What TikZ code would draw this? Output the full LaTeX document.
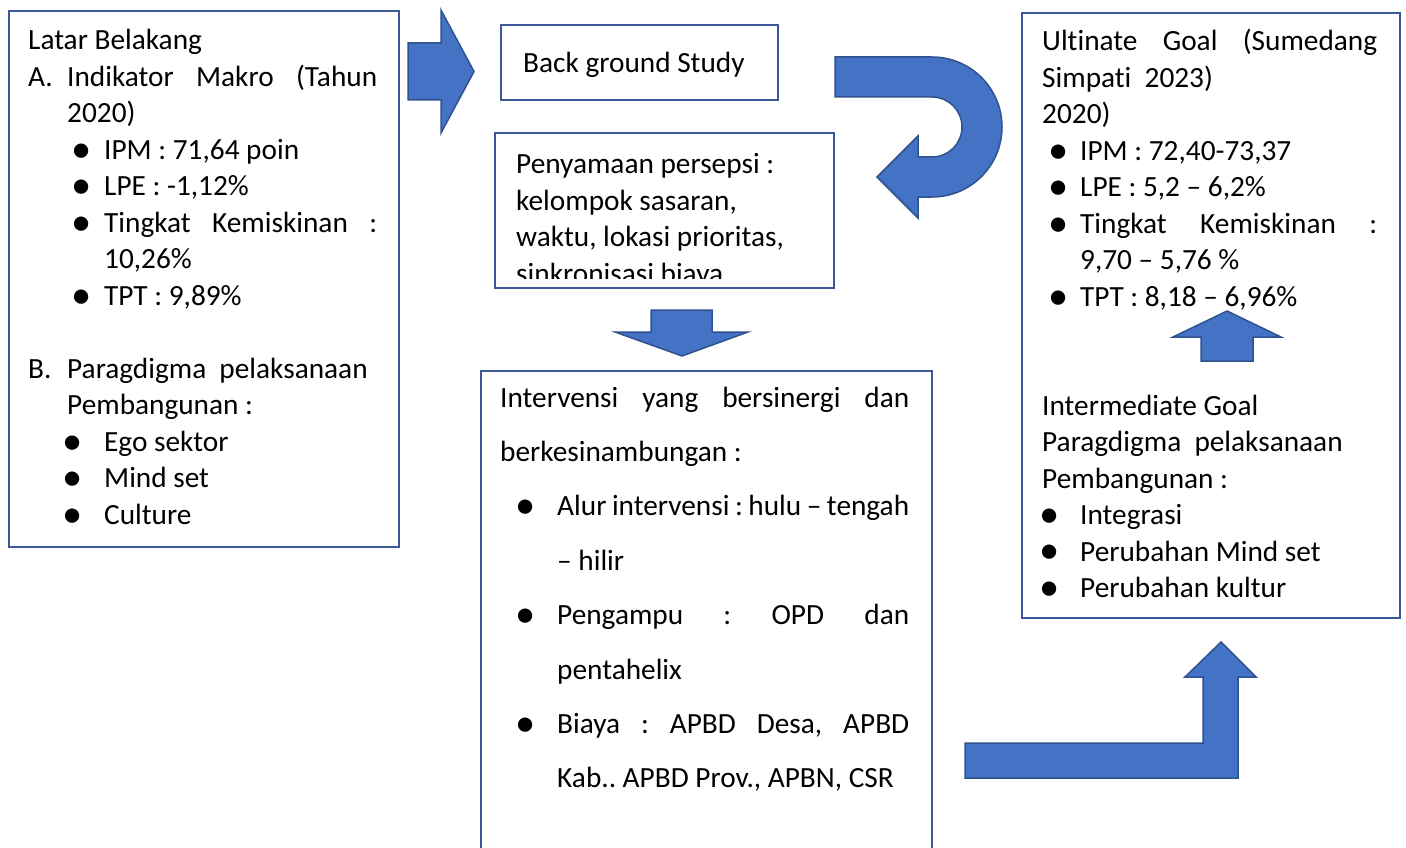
\documentclass[tikz,border=0pt]{standalone}
\usepackage{fontspec}
\setmainfont{Carlito}[Ligatures=CommonOff]
\usepackage{graphicx}
\definecolor{shapeblue}{RGB}{68,114,196}
\definecolor{shapeline}{RGB}{47,82,143}
\definecolor{frameblue}{RGB}{59,89,152}
\newcommand{\dotmark}{\raisebox{-0.1em}{\scalebox{1.38}{\textbullet}}}
\newcommand{\bul}[2]{\makebox[#2][l]{\hspace*{#1}\makebox[0pt]{\dotmark}}}
\newcommand{\wordsp}{\spaceskip=0pt\xspaceskip=0pt\frenchspacing}

\begin{document}
\begin{tikzpicture}[
x=1pt,y=-1pt,
panel/.style={draw=frameblue,line width=2pt,anchor=north west,inner sep=0pt},
txt/.style={anchor=base west,inner sep=0pt,text width=#1,font=\fontsize{29.3}{36.5}\selectfont},
txtwide/.style={txt=#1,font=\fontsize{29.3}{54.4}\selectfont},
blockarrow/.style={fill=shapeblue,draw=shapeline,line width=1.5pt,line join=miter}
]
\clip (0,0) rectangle (1406,848);
\node[panel,minimum width=390pt,minimum height=536pt] (latar) at (8,10) {};
\node[panel,minimum width=277pt,minimum height=75pt] (bgstudy) at (500,24) {};
\node[panel,minimum width=339pt,minimum height=155pt] (persepsi) at (494,132) {};
\node[panel,minimum width=451pt,minimum height=520pt] (intervensi) at (480,370) {};
\node[panel,minimum width=378pt,minimum height=605pt] (goal) at (1021,12) {};
\draw[blockarrow] (408,43) -- (441,43) -- (441,10) -- (474,71.5) -- (441,133) -- (441,100) -- (408,100) -- cycle;
\draw[blockarrow] (835,57) -- (932,57) arc[start angle=-90,end angle=90,radius=70] -- (918,197) -- (918,218) -- (877,177) -- (918,136) -- (918,157) -- (932,157) arc[start angle=90,end angle=-90,radius=30] -- (835,97) -- cycle;
\draw[blockarrow] (651,310) -- (712,310) -- (712,332) -- (748,332) -- (682,356) -- (615,332) -- (651,332) -- cycle;
\draw[blockarrow] (1201,361) -- (1201,337) -- (1173,337) -- (1227,311) -- (1281,337) -- (1253,337) -- (1253,361) -- cycle;
\draw[blockarrow] (965,743) -- (1203,743) -- (1203,677) -- (1185,677) -- (1221,642) -- (1256,677) -- (1238,677) -- (1238,778) -- (965,778) -- cycle;
\node[txt=360pt] (latartext) at (28,50) {\wordsp Latar Belakang\\
\makebox[39pt][l]{A.}\makebox[310pt][s]{Indikator Makro (Tahun}\\
\hspace*{39pt}2020)\\
\bul{53pt}{76pt}IPM : 71,64 poin\\
\bul{53pt}{76pt}LPE : -1,12\%\\
\bul{53pt}{76pt}\makebox[273pt][s]{Tingkat Kemiskinan :}\\
\hspace*{76pt}10,26\%\\
\bul{53pt}{76pt}TPT : 9,89\%\\
\mbox{}\\
\makebox[39pt][l]{B.}Paragdigma\ \ pelaksanaan\\
\hspace*{39pt}Pembangunan :\\
\bul{44pt}{76pt}Ego sektor\\
\bul{44pt}{76pt}Mind set\\
\bul{44pt}{76pt}Culture};
\node[txt=250pt] (bgtext) at (523,73) {\wordsp Back ground Study};
\begin{scope}
\clip (494,132) rectangle (833,278);
\node[txt=320pt] (persepsitext) at (516,174) {\wordsp Penyamaan persepsi :\\
kelompok sasaran,\\
waktu, lokasi prioritas,\\
sinkronisasi biaya};
\end{scope}
\node[txtwide=420pt] (intervensitext) at (500,407) {\wordsp\makebox[409pt][s]{Intervensi yang bersinergi dan}\\
berkesinambungan :\\
\bul{25pt}{57pt}\makebox[352pt][s]{Alur intervensi : hulu – tengah}\\
\hspace*{57pt}– hilir\\
\bul{25pt}{57pt}\makebox[352pt][s]{Pengampu : OPD dan}\\
\hspace*{57pt}pentahelix\\
\bul{25pt}{57pt}\makebox[352pt][s]{Biaya : APBD Desa, APBD}\\
\hspace*{57pt}Kab.. APBD Prov., APBN, CSR};
\node[txt=345pt] (goaltext) at (1042,51) {\wordsp\makebox[335pt][s]{Ultinate Goal (Sumedang}\\
Simpati\ \ 2023)\\
2020)\\
\bul{16pt}{38pt}IPM : 72,40-73,37\\
\bul{16pt}{38pt}LPE : 5,2 – 6,2\%\\
\bul{16pt}{38pt}\makebox[297pt][s]{Tingkat Kemiskinan :}\\
\hspace*{38pt}9,70 – 5,76 \%\\
\bul{16pt}{38pt}TPT : 8,18 – 6,96\%};
\node[txt=345pt] (midgoal) at (1042,415) {\wordsp Intermediate Goal\\
Paragdigma\ \ pelaksanaan\\
Pembangunan :\\
\bul{7pt}{38pt}Integrasi\\
\bul{7pt}{38pt}Perubahan Mind set\\
\bul{7pt}{38pt}Perubahan kultur};
\end{tikzpicture}
\end{document}
